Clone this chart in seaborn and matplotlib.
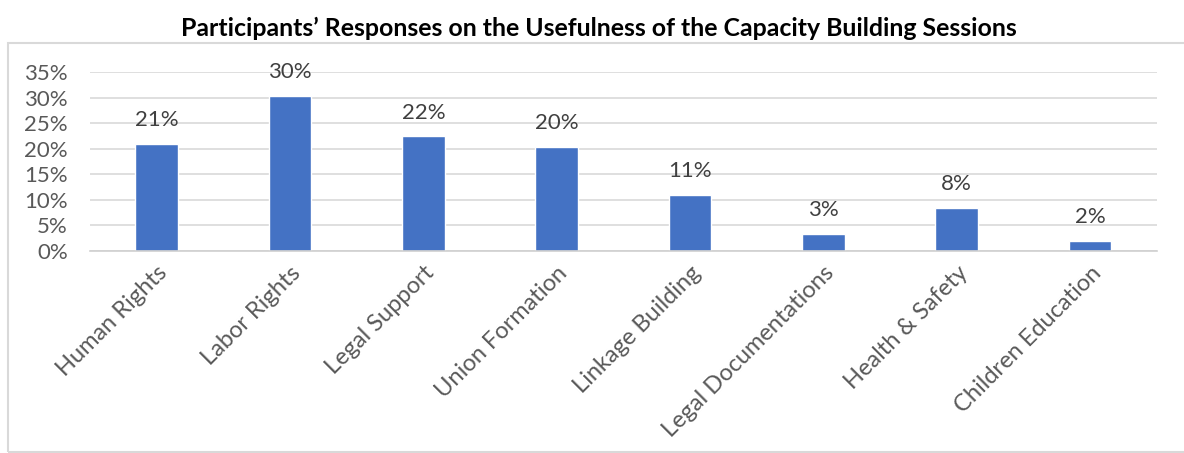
import matplotlib
matplotlib.use("Agg")
import matplotlib.pyplot as plt
from matplotlib.patches import Rectangle
import seaborn as sns
import pandas as pd

# Share of participants (%) who found each session topic most useful
topics = ["Human Rights", "Labor Rights", "Legal Support", "Union Formation",
          "Linkage Building", "Legal Documentations", "Health & Safety",
          "Children Education"]
shares = [21.0, 30.3, 22.4, 20.4, 11.0, 3.4, 8.4, 2.0]
y_ticks = [0, 5, 10, 15, 20, 25, 30, 35]

df = pd.DataFrame({"topic": topics, "share": shares})

sns.set_theme(style="whitegrid")
plt.rcParams["font.family"] = ["Lato", "DejaVu Sans"]

fig = plt.figure(figsize=(11.84, 4.53), dpi=100)
ax = fig.add_axes([0.076, 0.446, 0.901, 0.395])

sns.barplot(data=df, x="topic", y="share", color="#4472C4", width=0.32,
            saturation=1, ax=ax)

ax.set_ylim(0, 35)
ax.set_yticks(y_ticks)
ax.set_yticklabels([f"{t}%" for t in y_ticks])
ax.set_xlabel("")
ax.set_ylabel("")

ax.grid(axis="y", color="#D9D9D9", linewidth=1.2)
ax.grid(axis="x", visible=False)
for side in ["left", "right", "top"]:
    ax.spines[side].set_visible(False)
ax.spines["bottom"].set_color("#D0D0D0")
ax.spines["bottom"].set_linewidth(1.2)
ax.set_axisbelow(True)

ax.tick_params(axis="y", labelsize=16, labelcolor="#595959", length=0, pad=16)
ax.tick_params(axis="x", labelsize=17, labelcolor="#595959", length=0, pad=8)
plt.setp(ax.get_xticklabels(), rotation=45, ha="right", rotation_mode="anchor")

ax.bar_label(ax.containers[0], labels=[f"{v:.0f}%" for v in shares],
             padding=10, fontsize=16, color="#404040")

fig.text(0.506, 0.937, "Participants\u2019 Responses on the Usefulness of the Capacity Building Sessions",
         ha="center", va="center", fontsize=17.9, fontweight="bold", color="black")

# light frame around the chart area
fig.patches.append(Rectangle((0.007, 0.002), 1.1, 0.904, transform=fig.transFigure,
                             fill=False, edgecolor="#D9D9D9", linewidth=1.5))

fig.savefig("out.png", dpi=100, facecolor="white")
